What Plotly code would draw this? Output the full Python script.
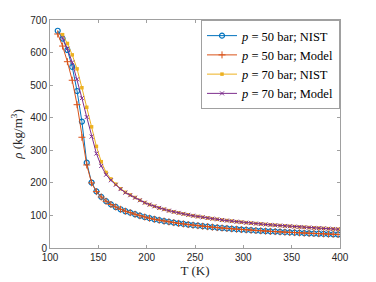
import plotly.graph_objects as go

# Temperature grids (K)
T50 = [108, 113, 118, 123, 128, 133, 138, 143, 148, 153, 158, 163, 168, 173, 178,
       183, 188, 193, 198, 203, 208, 213, 218, 223, 228, 233, 238, 243, 248, 253,
       258, 263, 268, 273, 278, 283, 288, 293, 298, 303, 308, 313, 318, 323, 328,
       333, 338, 343, 348, 353, 358, 363, 368, 373, 378, 383, 388, 393, 398]
T70 = [113, 118, 123, 128, 133, 138, 143, 148, 153, 158, 163, 168, 173, 178,
       183, 188, 193, 198, 203, 208, 213, 218, 223, 228, 233, 238, 243, 248, 253,
       258, 263, 268, 273, 278, 283, 288, 293, 298, 303, 308, 313, 318, 323, 328,
       333, 338, 343, 348, 353, 358, 363, 368, 373, 378, 383, 388, 393, 398]

# Densities (kg/m^3)
rho50_nist = [667, 643, 608, 556, 482, 388, 262, 201, 174, 157, 144, 134, 126, 119, 113,
              108.5, 103.7, 99.2, 95.2, 91.6, 88.4, 85.5, 82.8, 80.3, 78.0, 75.9, 73.9, 72.0,
              70.2, 68.6, 67.0, 65.5, 64.1, 62.7, 61.4, 60.2, 59.0, 57.8, 56.7, 55.7, 54.7,
              53.75, 52.8, 51.9, 51.1, 50.3, 49.5, 48.7, 47.9, 47.2, 46.5, 45.8, 45.2, 44.55,
              43.9, 43.3, 42.75, 42.2, 41.6]
rho50_model = [657, 620, 572, 515, 440, 340, 255, 200, 173, 156.5, 143.5, 133.5, 125.8,
               118.9, 112.9, 108.4, 103.6, 99.1, 95.1, 91.5, 88.3, 85.4, 82.7, 80.2, 77.9,
               75.8, 73.8, 71.9, 70.1, 68.5, 66.9, 65.4, 64.0, 62.6, 61.3, 60.1, 58.9, 57.7,
               56.6, 55.6, 54.6, 53.7, 52.8, 51.9, 51.1, 50.3, 49.5, 48.7, 47.9, 47.2, 46.5,
               45.8, 45.2, 44.5, 43.9, 43.3, 42.7, 42.2, 41.6]
rho70_nist = [655, 628, 593, 550, 492, 432, 372, 312, 265, 232, 212, 196, 182, 171, 163,
              155, 146.5, 139.3, 133.3, 128.0, 123.2, 118.8, 114.7, 111.1, 107.9, 104.8,
              102.0, 99.2, 96.7, 94.4, 92.2, 90.1, 88.05, 86.1, 84.3, 82.6, 80.9, 79.3, 77.8,
              76.4, 75.0, 73.7, 72.4, 71.2, 70.0, 68.9, 67.8, 66.7, 65.7, 64.7, 63.7, 62.8,
              61.9, 61.05, 60.2, 59.4, 58.6, 57.8]
rho70_model = [645, 612, 570, 518, 460, 402, 342, 290, 252, 225, 208, 194, 181, 170, 162,
               154.5, 146.5, 139.2, 133.2, 127.9, 123.1, 118.7, 114.6, 111.0, 107.8, 104.7,
               101.9, 99.1, 96.6, 94.3, 92.1, 90.0, 88.0, 86.0, 84.2, 82.5, 80.8, 79.2, 77.7,
               76.3, 74.9, 73.6, 72.3, 71.1, 69.9, 68.8, 67.7, 66.6, 65.6, 64.6, 63.6, 62.7,
               61.8, 61.0, 60.1, 59.3, 58.5, 57.7]

labels = ["<i>p</i> = 50 bar; NIST", "<i>p</i> = 50 bar; Model",
          "<i>p</i> = 70 bar; NIST", "<i>p</i> = 70 bar; Model"]
xticks = [100, 150, 200, 250, 300, 350, 400]
yticks = [0, 100, 200, 300, 400, 500, 600, 700]

fig = go.Figure()
fig.add_trace(go.Scatter(x=T50, y=rho50_nist, name=labels[0], mode="lines+markers",
                         line=dict(color="#0072BD", width=1),
                         marker=dict(symbol="circle-open", size=5, line=dict(width=1.2))))
fig.add_trace(go.Scatter(x=T50, y=rho50_model, name=labels[1], mode="lines+markers",
                         line=dict(color="#D95319", width=1),
                         marker=dict(symbol="cross-thin-open", size=5, line=dict(width=1))))
fig.add_trace(go.Scatter(x=T70, y=rho70_nist, name=labels[2], mode="lines+markers",
                         line=dict(color="#EDB120", width=1),
                         marker=dict(symbol="square", size=3.5)))
fig.add_trace(go.Scatter(x=T70, y=rho70_model, name=labels[3], mode="lines+markers",
                         line=dict(color="#7E2F8E", width=1),
                         marker=dict(symbol="x-thin-open", size=4, line=dict(width=1))))

axis_common = dict(showgrid=False, zeroline=False, showline=True, linecolor="#a0a0a0",
                   linewidth=1, mirror="ticks", ticks="inside", ticklen=3,
                   tickcolor="#a0a0a0", automargin=False,
                   tickfont=dict(family="Liberation Sans", size=10, color="#262626"))
fig.update_xaxes(range=[100, 400], tickvals=xticks, **axis_common,
                 title=dict(text="T (K)", font=dict(family="Liberation Serif", size=13,
                                                    color="#262626"), standoff=2))
fig.update_yaxes(range=[0, 700], tickvals=yticks, **axis_common,
                 title=dict(text="<i>ρ</i> (kg/m<sup>3</sup>)",
                            font=dict(family="Liberation Serif", size=13, color="#262626"),
                            standoff=4))
fig.update_layout(width=376, height=282, margin=dict(l=50, r=36, t=20, b=34),
                  plot_bgcolor="white", paper_bgcolor="white",
                  legend=dict(x=1, y=1, xanchor="right", yanchor="top",
                              bordercolor="#a0a0a0", borderwidth=1, bgcolor="white",
                              font=dict(family="Liberation Serif", size=12.5, color="#000"),
                              itemwidth=30, tracegroupgap=0))
fig.write_html("out.html", config={"displayModeBar": False},
               post_script="document.body.style.margin='0';document.body.style.padding='0';")
